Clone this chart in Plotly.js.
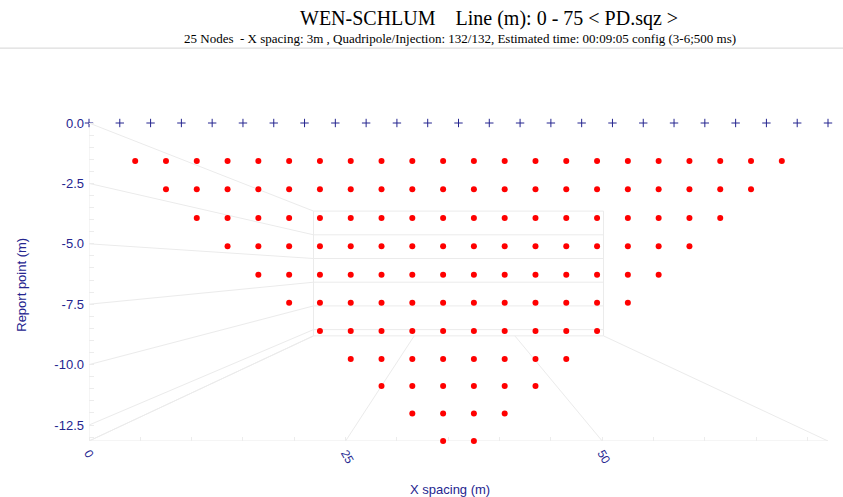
<!DOCTYPE html>
<html>
<head>
<meta charset="utf-8">
<script src="https://cdn.plot.ly/plotly-3.0.1.min.js"></script>
<style>html,body{margin:0;padding:0;background:#fff;}#chart{width:843px;height:497px;}</style>
</head>
<body>
<div id="chart"></div>
<script>
// ---- data ----
const electrodeX = [0,3,6,9,12,15,18,21,24,27,30,33,36,39,42,45,48,51,54,57,60,63,66,69,72];
const levelDepth = [-1.57,-2.74,-3.93,-5.10,-6.28,-7.44,-8.61,-9.77,-10.88,-12.02,-13.16];
const level1X  = [4.5,7.5,10.5,13.5,16.5,19.5,22.5,25.5,28.5,31.5,34.5,37.5,40.5,43.5,46.5,49.5,52.5,55.5,58.5,61.5,64.5,67.5];
const level2X  = [7.5,10.5,13.5,16.5,19.5,22.5,25.5,28.5,31.5,34.5,37.5,40.5,43.5,46.5,49.5,52.5,55.5,58.5,61.5,64.5];
const level3X  = [10.5,13.5,16.5,19.5,22.5,25.5,28.5,31.5,34.5,37.5,40.5,43.5,46.5,49.5,52.5,55.5,58.5,61.5];
const level4X  = [13.5,16.5,19.5,22.5,25.5,28.5,31.5,34.5,37.5,40.5,43.5,46.5,49.5,52.5,55.5,58.5];
const level5X  = [16.5,19.5,22.5,25.5,28.5,31.5,34.5,37.5,40.5,43.5,46.5,49.5,52.5,55.5];
const level6X  = [19.5,22.5,25.5,28.5,31.5,34.5,37.5,40.5,43.5,46.5,49.5,52.5];
const level7X  = [22.5,25.5,28.5,31.5,34.5,37.5,40.5,43.5,46.5,49.5];
const level8X  = [25.5,28.5,31.5,34.5,37.5,40.5,43.5,46.5];
const level9X  = [28.5,31.5,34.5,37.5,40.5,43.5];
const level10X = [31.5,34.5,37.5,40.5];
const level11X = [34.5,37.5];
const yTickVals = [0,-2.5,-5,-7.5,-10,-12.5];
const yTickText = ['0.0','-2.5','-5.0','-7.5','-10.0','-12.5'];
const xTickVals = [0,25,50];
const xTickText = ['0','25','50'];

// ---- build point lists ----
const levels = [level1X,level2X,level3X,level4X,level5X,level6X,level7X,level8X,level9X,level10X,level11X];
const px = [], py = [];
levels.forEach((arr,i)=>arr.forEach(x=>{px.push(x); py.push(levelDepth[i]);}));

const NAVY = '#25258f';
const X0 = 0, X1 = 72, Y0 = 0, Y1 = -13.16;

// perspective "back wall" decoration
const VX = 36, VY = -6.0, K = 0.3924;
const P = (x,y)=>[VX + K*(x-VX), VY + K*(y-VY)];
const GRID = '#ebebeb';
const shapes = [];
function seg(a,b){shapes.push({type:'line',xref:'x',yref:'y',x0:a[0],y0:a[1],x1:b[0],y1:b[1],line:{color:GRID,width:1},layer:'below'});}
seg([X0,Y0],[X0,Y1]);
seg([X0,Y1],[X1,Y1]);
yTickVals.concat([Y1]).forEach(v=>seg([X0,v],P(X0,v)));
xTickVals.concat([X1]).forEach(v=>seg([v,Y1],P(v,Y1)));
yTickVals.concat([Y1]).forEach(v=>seg(P(X0,v),P(X1,v)));
seg(P(X0,Y0),P(X0,Y1));
seg(P(X1,Y0),P(X1,Y1));
const L=89, W=739, T=123, H=318.5;
const pxX = p=>(p-L)/W;
const pxY = p=>(T+H-p)/H;
shapes.push({type:'line',xref:'paper',yref:'paper',x0:pxX(0),x1:pxX(843),y0:pxY(48),y1:pxY(48),line:{color:'#d4d4d4',width:1}});

const traces = [
  {type:'scatter',mode:'markers',x:electrodeX,y:electrodeX.map(()=>0),cliponaxis:false,
   marker:{symbol:'cross-thin',size:6,line:{color:NAVY,width:1},color:NAVY},hoverinfo:'x+y'},
  {type:'scatter',mode:'markers',x:px,y:py,cliponaxis:false,
   marker:{symbol:'circle',size:6,color:'#ff0000'},hoverinfo:'x+y'}
];

const layout = {
  width:843,height:497,
  margin:{l:L,r:843-L-W,t:T,b:497-T-H},
  paper_bgcolor:'#fff',plot_bgcolor:'#fff',
  showlegend:false,
  font:{family:'Liberation Sans, Arial, sans-serif',color:NAVY},
  xaxis:{range:[X0,X1],showgrid:false,zeroline:false,showline:false,
    tickvals:xTickVals,ticktext:xTickText,tickangle:60,ticks:'',ticklabelstandoff:2,
    tickfont:{size:12,color:NAVY},
    minor:{dtick:5,ticks:'inside',ticklen:4,tickcolor:'#ececec'}},
  yaxis:{range:[Y1,Y0],showgrid:false,zeroline:false,showline:false,
    tickvals:yTickVals,ticktext:yTickText,ticks:'',ticklabelstandoff:4,
    tickfont:{size:13,color:NAVY},
    minor:{dtick:0.5,ticks:'inside',ticklen:5,tickcolor:'#ececec'}},
  shapes:shapes,
  annotations:[
    {xref:'paper',yref:'paper',x:pxX(489),y:pxY(18),text:'WEN-SCHLUM&nbsp;&nbsp;&nbsp;&nbsp;Line (m): 0 - 75 &lt; PD.sqz &gt;',showarrow:false,
     xanchor:'center',yanchor:'middle',font:{family:'Liberation Serif, Times New Roman, serif',size:20,color:'#000'}},
    {xref:'paper',yref:'paper',x:pxX(460),y:pxY(38),text:'25 Nodes&nbsp;&nbsp;- X spacing: 3m , Quadripole/Injection: 132/132, Estimated time: 00:09:05 config (3-6;500 ms)',showarrow:false,
     xanchor:'center',yanchor:'middle',font:{family:'Liberation Serif, Times New Roman, serif',size:13,color:'#000'}},
    {xref:'paper',yref:'paper',x:pxX(450),y:pxY(490),text:'X spacing (m)',showarrow:false,
     xanchor:'center',yanchor:'middle',font:{size:13,color:NAVY}},
    {xref:'paper',yref:'paper',x:pxX(22),y:pxY(285),text:'Report point (m)',showarrow:false,textangle:-90,
     xanchor:'center',yanchor:'middle',font:{size:13,color:NAVY}}
  ]
};
Plotly.newPlot('chart',traces,layout,{displayModeBar:false,staticPlot:true});
</script>
</body>
</html>
